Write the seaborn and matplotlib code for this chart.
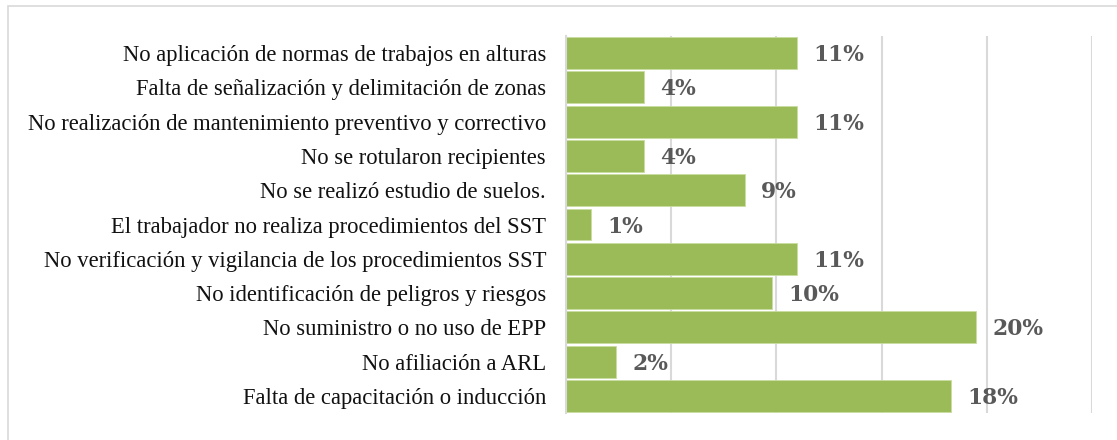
import matplotlib
matplotlib.use("Agg")
import matplotlib.pyplot as plt
import matplotlib.patches as mpatches
import seaborn as sns
import pandas as pd

categories = [
    "No aplicación de normas de trabajos en alturas",
    "Falta de señalización y delimitación de zonas",
    "No realización de mantenimiento preventivo y correctivo",
    "No se rotularon recipientes",
    "No se realizó estudio de suelos.",
    "El trabajador no realiza procedimientos del SST",
    "No verificación y vigilancia de los procedimientos SST",
    "No identificación de peligros y riesgos",
    "No suministro o no uso de EPP",
    "No afiliación a ARL",
    "Falta de capacitación o inducción",
]
values = [11.0, 3.7, 11.0, 3.7, 8.5, 1.2, 11.0, 9.8, 19.5, 2.4, 18.3]
value_labels = ["11%", "4%", "11%", "4%", "9%", "1%", "11%", "10%", "20%", "2%", "18%"]
grid_ticks = [0, 5, 10, 15, 20, 25]

df = pd.DataFrame({"causa": categories, "pct": values})

sns.set_theme(style="white")
CAT_FONT = "Liberation Serif"
VAL_FONT = "DejaVu Serif"
plt.rcParams["font.family"] = [CAT_FONT, "DejaVu Serif"]

W, H, DPI = 1117, 440, 100
fig = plt.figure(figsize=(W / DPI, H / DPI), dpi=DPI)
ax = fig.add_axes([566 / W, 1 - 413 / H, (1092 - 566) / W, (413 - 36) / H])

sns.barplot(data=df, y="causa", x="pct", order=categories, color="#9BBB59",
            width=0.93, orient="h", ax=ax, saturation=1,
            edgecolor="#C9DCA0", linewidth=0.6)

ax.set_xlim(0, 25)
ax.set_xticks(grid_ticks)
ax.set_xticklabels([])
ax.tick_params(axis="both", length=0)
ax.grid(axis="x", color="#D9D9D9", linewidth=1.5)
ax.grid(axis="y", visible=False)
ax.set_axisbelow(True)
for s in ["top", "right", "bottom"]:
    ax.spines[s].set_visible(False)
ax.spines["left"].set_color("#D9D9D9")
ax.spines["left"].set_linewidth(1.5)
ax.set_xlabel("")
ax.set_ylabel("")

# fit label font sizes to the reference widths
renderer = fig.canvas.get_renderer()
probe = fig.text(0, 0, categories[0], fontsize=14, family=CAT_FONT)
w = probe.get_window_extent(renderer).width
probe.remove()
cat_fs = 14 * 424 / w
probe = fig.text(0, 0, "20%", fontsize=14, family=VAL_FONT, fontweight="bold")
w = probe.get_window_extent(renderer).width
probe.remove()
val_fs = 14 * 51 / w

ax.set_yticks(range(len(categories)))
ax.set_yticklabels(categories, fontsize=cat_fs, color="#111111")
ax.tick_params(axis="y", pad=20 * 72 / DPI)

for i, (v, lab) in enumerate(zip(values, value_labels)):
    ax.annotate(lab, xy=(v, i), xytext=(16 * 72 / DPI, -1.5), textcoords="offset points",
                ha="left", va="center", fontsize=val_fs, fontweight="bold",
                color="#595959", family=VAL_FONT)

frame = mpatches.Rectangle((8 / W, -0.2), 2, 1.2 - 6 / H, transform=fig.transFigure,
                           fill=False, edgecolor="#D9D9D9", linewidth=1.2)
fig.add_artist(frame)

fig.savefig("out.png", dpi=DPI)
